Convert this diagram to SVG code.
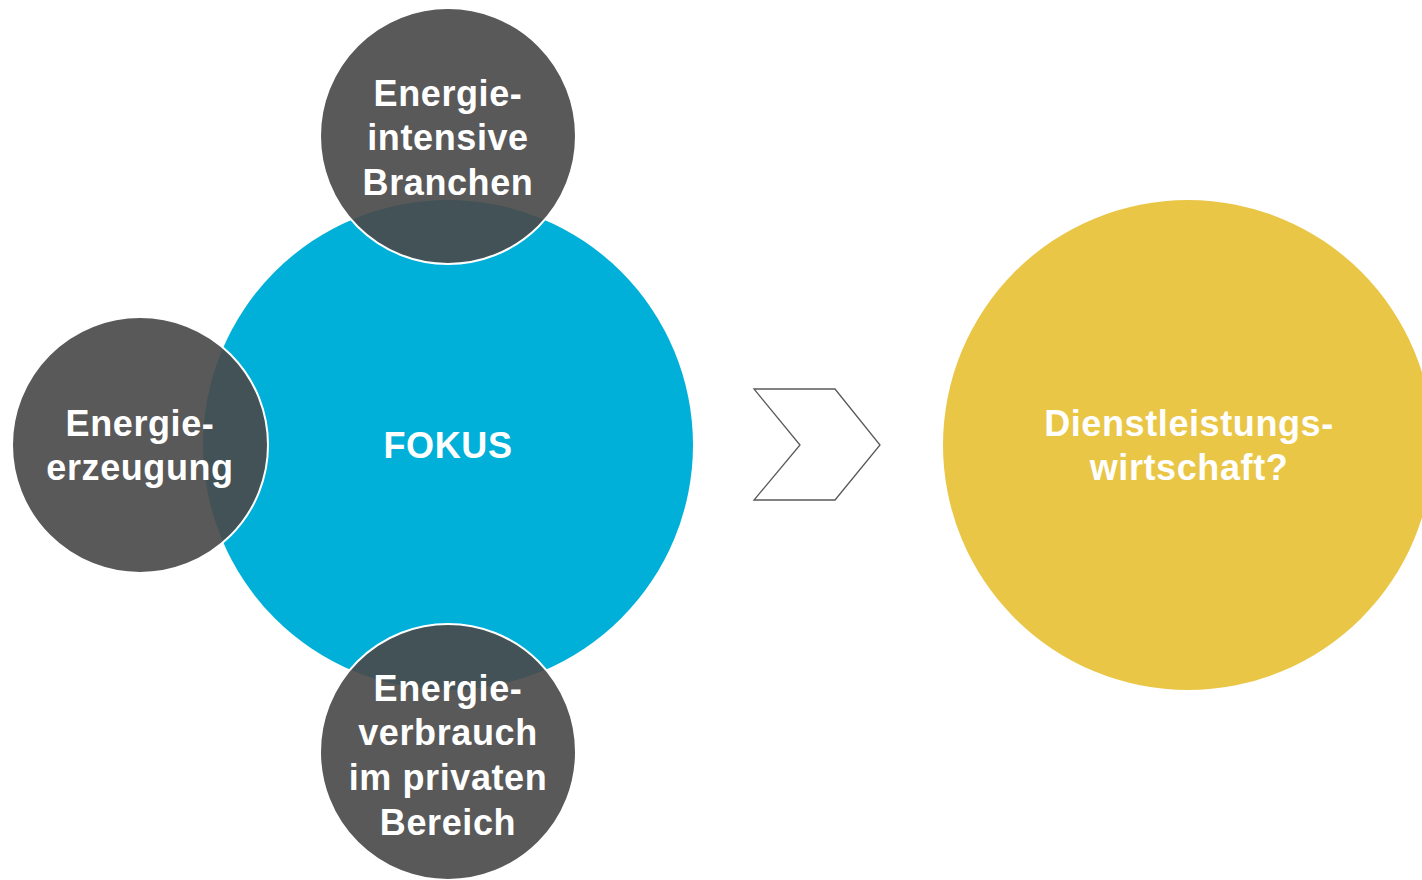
<svg xmlns="http://www.w3.org/2000/svg" width="1422" height="880" viewBox="0 0 1422 880">
<style>
.t{font-family:"Liberation Sans",Arial,sans-serif;font-weight:bold;font-size:36px;letter-spacing:0.6px;fill:#ffffff;text-anchor:middle}
.g{fill:#494949;fill-opacity:0.91;stroke:#ffffff;stroke-width:2}
</style>
<rect width="1422" height="880" fill="#ffffff"/>
<g id="fokus">
<circle cx="448" cy="445" r="245" fill="#00b0d9"/>
<text class="t" x="448" y="458">FOKUS</text>
</g>
<g id="dienstleistung">
<circle cx="1188" cy="445" r="245" fill="#eac646"/>
<text class="t" x="1189" y="436">Dienstleistungs-</text>
<text class="t" x="1189" y="480">wirtschaft?</text>
</g>
<g id="connectors">
<polygon points="754,389 835,389 880,445 835,500 754,500 800,445" fill="#ffffff" stroke="#595959" stroke-width="1.3"/>
</g>
<g id="energieintensiv">
<circle class="g" cx="448" cy="136" r="128"/>
<text class="t" x="448" y="106">Energie-</text>
<text class="t" x="448" y="150">intensive</text>
<text class="t" x="448" y="195">Branchen</text>
</g>
<g id="energieerzeugung">
<circle class="g" cx="140" cy="445" r="128"/>
<text class="t" x="140" y="436">Energie-</text>
<text class="t" x="140" y="480">erzeugung</text>
</g>
<g id="energieverbrauch">
<circle class="g" cx="448" cy="752" r="128"/>
<text class="t" x="448" y="701">Energie-</text>
<text class="t" x="448" y="745">verbrauch</text>
<text class="t" x="448" y="790">im privaten</text>
<text class="t" x="448" y="835">Bereich</text>
</g>
</svg>
